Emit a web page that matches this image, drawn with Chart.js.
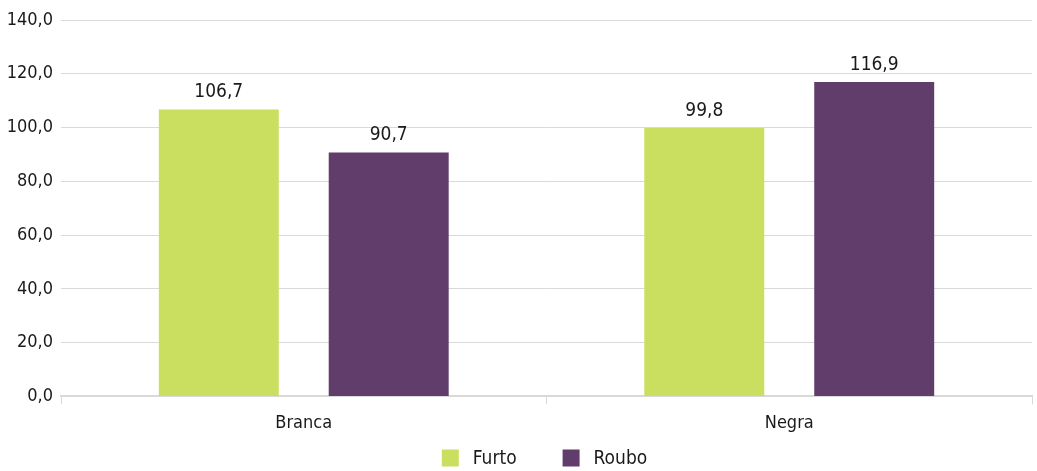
<!DOCTYPE html>
<html>
<head>
<meta charset="utf-8">
<script src="https://cdn.jsdelivr.net/npm/chart.js@4"></script>
<style>
  html, body { margin: 0; padding: 0; background: #fff; }
  #wrap { width: 1037px; height: 471px; }
</style>
</head>
<body>
<div id="wrap"><canvas id="barChart"></canvas></div>
<script>
const categories = ['Branca', 'Negra'];
const furto = [106.7, 99.8];
const roubo = [90.7, 116.9];
const seriesNames = ['Furto', 'Roubo'];
const seriesColors = ['#cadf5f', '#603d6b'];

const FONT = "'DejaVu Sans Condensed', 'Liberation Sans Narrow', 'Open Sans', sans-serif";
const fmt = v => v.toFixed(1).replace('.', ',');

function narrow(ctx) {
  if ('fontStretch' in ctx) ctx.fontStretch = 'condensed';
}

// condensed text everywhere + value labels + legend under the axis
const decorations = {
  id: 'decorations',
  beforeLayout(chart) { narrow(chart.ctx); },
  beforeDraw(chart) { narrow(chart.ctx); },
  afterDatasetsDraw(chart) {
    const ctx = chart.ctx;
    ctx.save();
    narrow(ctx);
    ctx.font = 'condensed 19px ' + FONT;
    ctx.fillStyle = '#1a1a1a';
    ctx.textAlign = 'center';
    ctx.textBaseline = 'bottom';
    chart.data.datasets.forEach((ds, i) => {
      chart.getDatasetMeta(i).data.forEach((bar, j) => {
        ctx.fillText(fmt(ds.data[j]), bar.x, bar.y - 8);
      });
    });
    ctx.restore();
  },
  afterDraw(chart) {
    const ctx = chart.ctx;
    ctx.save();
    narrow(ctx);
    ctx.font = 'condensed 19px ' + FONT;
    ctx.textBaseline = 'middle';
    ctx.textAlign = 'left';
    const box = 17, gapText = 14, gapItem = 46;
    const items = chart.data.datasets.map(ds => ({
      text: ds.label, color: ds.backgroundColor,
      w: box + gapText + ctx.measureText(ds.label).width
    }));
    const total = items.reduce((s, it) => s + it.w, 0) + gapItem * (items.length - 1);
    // legend sits a little right of the canvas centre, as in the original
    let x = chart.width / 2 + 26 - total / 2;
    const y = chart.height - 13;
    items.forEach(it => {
      ctx.fillStyle = it.color;
      ctx.fillRect(x, y - box / 2, box, box);
      ctx.fillStyle = '#1a1a1a';
      ctx.fillText(it.text, x + box + gapText, y + 1);
      x += it.w + gapItem;
    });
    ctx.restore();
  }
};

new Chart(document.getElementById('barChart'), {
  type: 'bar',
  data: {
    labels: categories,
    datasets: [
      { label: seriesNames[0], data: furto, backgroundColor: seriesColors[0] },
      { label: seriesNames[1], data: roubo, backgroundColor: seriesColors[1] }
    ]
  },
  options: {
    responsive: true,
    maintainAspectRatio: false,
    animation: false,
    layout: { padding: { top: 20, right: 5, left: 0, bottom: 29 } },
    datasets: { bar: { categoryPercentage: 0.70, barPercentage: 0.706 } },
    plugins: {
      tooltip: { enabled: false },
      legend: { display: false }
    },
    scales: {
      x: {
        grid: { display: true, drawOnChartArea: false, offset: true, color: '#d9d9d9', tickLength: 8 },
        border: { color: '#d9d9d9', width: 2 },
        ticks: { color: '#1a1a1a', font: { family: FONT, size: 18, weight: 'condensed' }, padding: 8 }
      },
      y: {
        min: 0,
        max: 140,
        afterFit(scale) { scale.width = 61; },
        ticks: {
          stepSize: 20,
          color: '#1a1a1a',
          font: { family: FONT, size: 18, weight: 'condensed' },
          padding: 8,
          callback: v => fmt(v)
        },
        grid: { color: '#d9d9d9', drawTicks: false },
        border: { display: false }
      }
    }
  },
  plugins: [decorations]
});
</script>
</body>
</html>
